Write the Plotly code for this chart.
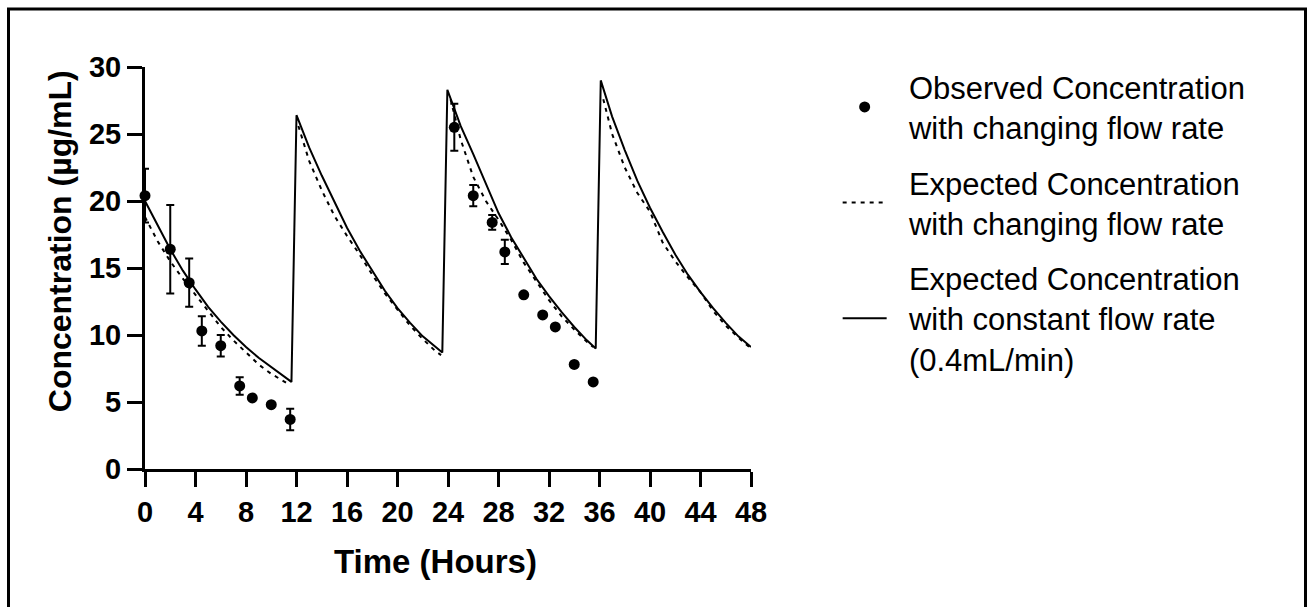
import plotly.graph_objects as go

# Observed concentrations (mean ± SD) with changing flow rate
obs_time = [0, 2, 3.5, 4.5, 6, 7.5, 8.5, 10, 11.5,
            24.5, 26, 27.5, 28.5, 30, 31.5, 32.5, 34, 35.5]
obs_conc = [20.4, 16.4, 13.9, 10.3, 9.2, 6.2, 5.3, 4.8, 3.7,
            25.5, 20.4, 18.4, 16.2, 13.0, 11.5, 10.6, 7.8, 6.5]
obs_sd = [2.0, 3.3, 1.8, 1.1, 0.8, 0.65, 0, 0, 0.8,
          1.75, 0.8, 0.55, 0.9, 0, 0, 0, 0, 0]

# Expected concentration, changing flow rate (one segment per dosing interval)
chg_time = [0, 1, 2, 3, 4, 5, 6, 7, 8, 9, 10, 11, 11.35, None,
            12.15, 13, 14, 15, 16, 17, 18, 19, 20, 21, 22, 23, 23.45, None,
            24.2, 25, 26, 27, 28, 29, 30, 31, 32, 33, 34, 35, 35.5, None,
            36.3, 37, 38, 39, 40, 41, 42, 43, 44, 45, 46, 47, 48]
chg_conc = [18.8, 17.0, 15.5, 14.2, 13.0, 11.8, 10.6, 9.6, 8.7, 7.8, 7.1, 6.5, 6.35, None,
            25.6, 23.0, 20.8, 18.9, 17.4, 16.0, 14.5, 13.1, 11.9, 10.7, 9.7, 8.8, 8.5, None,
            27.6, 24.6, 21.8, 20.0, 18.6, 17.1, 15.4, 14.0, 12.6, 11.4, 10.4, 9.5, 9.1, None,
            27.6, 25.0, 22.5, 20.6, 19.2, 16.9, 15.5, 14.3, 13.2, 11.8, 10.7, 9.8, 9.0]

# Expected concentration, constant flow rate (0.4 mL/min)
const_time = [0, 1, 2, 3, 4, 5, 6, 7, 8, 9, 10, 11, 11.6,
              12.0, 13, 14, 15, 16, 17, 18, 19, 20, 21, 22, 23, 23.55,
              23.95, 25, 26, 27, 28, 29, 30, 31, 32, 33, 34, 35, 35.7,
              36.1, 37, 38, 39, 40, 41, 42, 43, 44, 45, 46, 47, 48]
const_conc = [20.0, 18.2, 16.4, 14.8, 13.4, 12.1, 11.0, 10.0, 9.1, 8.3, 7.6, 6.9, 6.5,
              26.4, 24.0, 21.9, 19.9, 18.0, 16.3, 14.8, 13.3, 12.0, 10.9, 9.9, 9.1, 8.7,
              28.3, 25.6, 23.5, 21.3, 19.1, 17.3, 15.7, 14.2, 12.9, 11.7, 10.6, 9.6, 9.0,
              29.0, 26.3, 23.8, 21.5, 19.5, 17.7, 16.0, 14.5, 13.2, 12.0, 10.9, 9.9, 9.1]

x_ticks = [0, 4, 8, 12, 16, 20, 24, 28, 32, 36, 40, 44, 48]
y_ticks = [0, 5, 10, 15, 20, 25, 30]

FONT = "Arial, 'Liberation Sans', sans-serif"
PAD = "\u00a0\u00a0"  # small indent between legend symbol and label


def legend_label(*lines):
    return "<br>".join(PAD + line for line in lines)


fig = go.Figure()

# lines first so the observed markers sit on top
fig.add_trace(go.Scatter(
    x=chg_time, y=chg_conc, mode="lines",
    name=legend_label("Expected Concentration", "with changing flow rate"),
    line=dict(color="black", width=2, dash="4px,5px"),
    connectgaps=False, legendgroup="b", legendrank=2,
))
fig.add_trace(go.Scatter(
    x=const_time, y=const_conc, mode="lines",
    name=legend_label("Expected Concentration", "with constant flow rate",
                      "(0.4mL/min)"),
    line=dict(color="black", width=2),
    legendgroup="c", legendrank=3,
))
fig.add_trace(go.Scatter(
    x=obs_time, y=obs_conc, mode="markers",
    name=legend_label("Observed Concentration", "with changing flow rate"),
    marker=dict(color="black", size=11),
    error_y=dict(type="data", array=obs_sd, color="black", thickness=2, width=4),
    cliponaxis=False, legendgroup="a", legendrank=1,
))

fig.update_layout(
    width=1307, height=607,
    margin=dict(l=145, r=556, t=67, b=138),
    paper_bgcolor="white", plot_bgcolor="white",
    font=dict(family=FONT, color="black"),
    showlegend=True,
    legend=dict(
        x=1.143, y=1.017, xanchor="left", yanchor="top",
        font=dict(family=FONT, size=31, color="black"),
        traceorder="grouped", tracegroupgap=12,
        itemwidth=44, valign="middle", maxheight=600,
        bgcolor="rgba(0,0,0,0)",
    ),
    xaxis=dict(
        range=[0, 48], tickvals=x_ticks, ticktext=[str(v) for v in x_ticks],
        showgrid=False, zeroline=False,
        showline=True, linecolor="black", linewidth=3,
        ticks="outside", ticklen=15, tickwidth=3, tickcolor="black",
        tickfont=dict(family=FONT, size=29, weight="bold", color="black"),
    ),
    yaxis=dict(
        range=[0, 30], tickvals=y_ticks, ticktext=[str(v) for v in y_ticks],
        showgrid=False, zeroline=False,
        showline=True, linecolor="black", linewidth=3,
        ticks="outside", ticklen=15, tickwidth=3, tickcolor="black",
        tickfont=dict(family=FONT, size=29, weight="bold", color="black"),
    ),
    annotations=[
        dict(text="Time (Hours)", xref="paper", yref="paper",
             x=0.48, y=-0.231, xanchor="center", yanchor="middle",
             showarrow=False,
             font=dict(family=FONT, size=33, weight="bold", color="black")),
        dict(text="Concentration (µg/mL)", xref="paper", yref="paper",
             x=-0.140, y=0.567, xanchor="center", yanchor="middle",
             textangle=-90, showarrow=False,
             font=dict(family=FONT, size=32, weight="bold", color="black")),
    ],
    shapes=[
        dict(type="rect", xref="paper", yref="paper",
             x0=(8.5 - 145) / 606, x1=(1305.5 - 145) / 606,
             y0=(469 - 620) / 402, y1=(469 - 9) / 402,
             line=dict(color="black", width=3), fillcolor="rgba(0,0,0,0)",
             layer="below"),
    ],
)

fig.write_html("out.html")
